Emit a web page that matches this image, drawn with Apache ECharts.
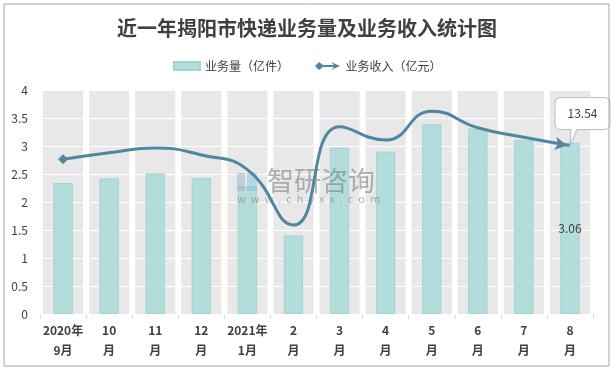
<!DOCTYPE html>
<html>
<head>
<meta charset="utf-8">
<script src="https://cdn.jsdelivr.net/npm/echarts@6/dist/echarts.min.js"></script>
<style>
html,body{margin:0;padding:0;background:#fff;}
#c{width:614px;height:371px;}
</style>
</head>
<body>
<div id="c"></div>
<script>
const categories = ['2020年\n9月','10\n月','11\n月','12\n月','2021年\n1月','2\n月','3\n月','4\n月','5\n月','6\n月','7\n月','8\n月'];
const volume = [2.34, 2.42, 2.51, 2.43, 2.28, 1.40, 2.97, 2.90, 3.39, 3.31, 3.11, 3.06];
const revenue = [12.43, 12.96, 13.34, 12.78, 11.6, 7.15, 15.05, 13.98, 16.3, 14.97, 14.2, 13.54];
const bandValues = [4, 4, 4, 4, 4, 4, 4, 4, 4, 4, 4, 4];
const volumeName = '业务量（亿件）';
const revenueName = '业务收入（亿元）';
const titleText = '近一年揭阳市快递业务量及业务收入统计图';

const chart = echarts.init(document.getElementById('c'), null, {renderer: 'canvas'});
const last = categories.length - 1;
const font = '"Microsoft YaHei","Noto Sans CJK SC",sans-serif';

const volData = volume.map((v, i) => i === last ? {value: v, label: {show: true}} : v);
const revData = revenue.map((v, i) => {
  if (i === 0) return {value: v, symbol: 'diamond', symbolSize: 10};
  if (i === last) return {value: v, symbol: 'arrow', symbolSize: [10, 12], symbolRotate: -100, symbolOffset: [-3, 0]};
  return v;
});

chart.setOption({
  animation: false,
  textStyle: {fontFamily: font},
  title: {
    text: titleText, left: 'center', top: 13,
    textStyle: {fontSize: 20, fontWeight: 'bold', color: '#404040', fontFamily: font}
  },
  legend: {
    top: 55, left: 168, itemGap: 26, itemWidth: 26, itemHeight: 8,
    textStyle: {fontSize: 12, color: '#404040'},
    data: [
      {name: volumeName, icon: 'rect'},
      {name: revenueName, icon: 'path://M0,4 L4,0 L8,3 L19,3 L16,0 L25,4 L16,8 L19,5 L8,5 L4,8 Z'}
    ]
  },
  grid: {left: 40, right: 21, top: 90, bottom: 57},
  xAxis: [
    {
      type: 'category', data: categories, boundaryGap: true,
      axisLine: {show: true, lineStyle: {color: '#d9d9d9'}},
      axisTick: {show: true, length: 5, lineStyle: {color: '#d9d9d9'}},
      axisLabel: {interval: 0, fontWeight: 'bold', fontSize: 12, color: '#404040', lineHeight: 20, margin: 6}
    },
    {type: 'category', data: categories, show: false}
  ],
  yAxis: [
    {
      type: 'value', min: 0, max: 4, interval: 0.5, z: 2,
      axisLine: {show: false}, axisTick: {show: false},
      axisLabel: {fontSize: 12, color: '#404040', margin: 12},
      splitLine: {show: true, lineStyle: {color: '#ffffff', width: 1}}
    },
    {type: 'value', min: 0, max: 18, show: false, splitLine: {show: false}}
  ],
  graphic: [
    {type: 'rect', z: 100, shape: {x: 4, y: 4, width: 605, height: 362}, style: {fill: 'none', stroke: '#a6a6a6', lineWidth: 1}},
    {type: 'rect', z: 3.5, silent: true, shape: {x: 237, y: 173, width: 8, height: 18}, style: {fill: 'rgba(150,170,200,0.45)'}},
    {type: 'rect', z: 3.5, silent: true, shape: {x: 247, y: 173, width: 10, height: 18}, style: {fill: 'rgba(120,190,215,0.45)'}},
    {type: 'text', z: 3.5, silent: true, x: 267, y: 167, style: {text: '智研咨询', fontSize: 27, fill: 'rgba(120,120,120,0.55)', fontFamily: font}},
    {type: 'text', z: 3.5, silent: true, x: 237, y: 193, style: {text: 'w  w  w  .  c  h  y  x  x  .  c  o  m', fontSize: 11, fill: 'rgba(120,120,120,0.55)', fontFamily: font}}
  ],
  series: [
    {
      name: 'band', type: 'bar', xAxisIndex: 1, yAxisIndex: 0, data: bandValues,
      barWidth: '87%', z: 1, silent: true,
      itemStyle: {color: '#e8e8e8'}
    },
    {
      name: volumeName, type: 'bar', xAxisIndex: 0, yAxisIndex: 0, data: volData,
      barWidth: '42%', z: 3,
      itemStyle: {color: '#b2ddda', borderColor: '#a2d5d1', borderWidth: 1},
      label: {show: false, position: 'inside', color: '#404040', fontSize: 12, formatter: '{c}'}
    },
    {
      name: revenueName, type: 'line', xAxisIndex: 0, yAxisIndex: 1, data: revData,
      smooth: 0.5, z: 4, symbol: 'none', showSymbol: true,
      lineStyle: {color: '#4f87a1', width: 3},
      itemStyle: {color: '#4f87a1'},
      markPoint: {
        silent: true,
        symbol: 'path://M6,0 L49,0 Q55,0 55,6 L55,26 Q55,32 49,32 L22,32 L15,48 L16,32 L6,32 Q0,32 0,26 L0,6 Q0,0 6,0 Z',
        symbolSize: [55, 48], symbolOffset: [12.5, -24],
        itemStyle: {color: '#ffffff', borderColor: '#bfbfbf', borderWidth: 1},
        label: {show: true, color: '#404040', fontSize: 12, offset: [0, -8], formatter: String(revenue[last])},
        data: [{coord: [last, revenue[last]]}]
      }
    }
  ]
});
</script>
</body>
</html>
